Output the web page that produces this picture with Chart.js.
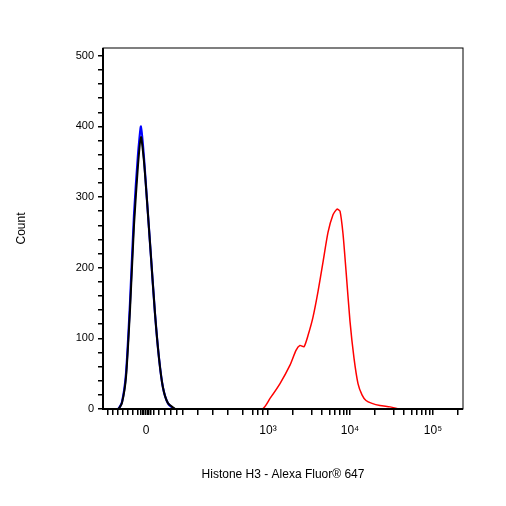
<!DOCTYPE html>
<html>
<head>
<meta charset="utf-8">
<script src="https://cdn.jsdelivr.net/npm/chart.js@4"></script>
<style>
  body { margin: 0; background: #fff; }
  #wrap { width: 506px; height: 506px; }
</style>
</head>
<body>
<div id="wrap"><canvas id="chart" width="506" height="506"></canvas></div>
<script>
// x values are display channels on the logicle axis (0..360)
const blueX = [0, 15, 19, 23, 27, 31, 35, 38, 41, 44, 48, 52, 56, 60, 65, 72, 360];
const blueY = [0, 0, 10, 50, 150, 275, 360, 400, 355, 295, 215, 135, 72, 30, 8, 0, 0];
const blackX = [0, 15, 19, 23, 27, 31, 35, 38, 41, 44, 48, 52, 56, 60, 65, 72];
const blackY = [0, 0, 9, 45, 140, 260, 345, 385, 350, 295, 215, 135, 72, 30, 8, 0];
const redX = [0, 159, 167, 177, 187, 193, 197, 201, 205, 210, 215, 220, 225, 230, 234, 237, 240, 243, 247, 251, 255, 259, 263, 269, 277, 287, 297, 360];
const redY = [0, 0, 15, 36, 62, 83, 90, 88, 104, 130, 166, 208, 250, 275, 283, 280, 248, 196, 124, 72, 36, 20, 12, 8, 5, 3, 0, 0];

const majorTicks = [43, 165, 247, 330];
const majorLabels = ['0', '10³', '10⁴', '10⁵'];
const minorTicks = [5, 10, 15, 20, 25, 30, 35, 38, 40, 41, 45, 46, 48, 51, 56, 62, 68, 74, 80, 95, 110, 125, 140, 150, 155, 160,
  190, 209, 219, 227, 232, 237, 241, 244, 272, 291, 301, 309, 314, 319, 323, 327, 355];

const toPts = (xs, ys) => xs.map((x, i) => ({ x: x, y: ys[i] }));

const framePlugin = {
  id: 'frame',
  afterDraw(chart) {
    const a = chart.chartArea, ctx = chart.ctx;
    ctx.save();
    ctx.strokeStyle = '#000';
    ctx.lineWidth = 1;
    ctx.strokeRect(a.left, a.top, a.right - a.left, a.bottom - a.top);
    ctx.lineWidth = 2;
    ctx.beginPath();
    ctx.moveTo(a.left, a.top);
    ctx.lineTo(a.left, a.bottom);
    ctx.lineTo(a.right, a.bottom);
    ctx.stroke();
    ctx.restore();
  }
};

new Chart(document.getElementById('chart'), {
  type: 'line',
  data: {
    datasets: [
      { data: toPts(redX, redY), borderColor: '#ff0000', borderWidth: 1.5 },
      { data: toPts(blackX, blackY), borderColor: '#000000', borderWidth: 2 },
      { data: toPts(blueX, blueY), borderColor: '#0000ff', borderWidth: 2.2 }
    ]
  },
  options: {
    responsive: false,
    animation: false,
    layout: { padding: { left: 10, right: 43, top: 48, bottom: 20 } },
    elements: { point: { radius: 0 }, line: { tension: 0.2 } },
    plugins: { legend: { display: false }, tooltip: { enabled: false } },
    scales: {
      x: {
        type: 'linear', min: 0, max: 360,
        afterBuildTicks: s => { s.ticks = majorTicks.concat(minorTicks).map(v => ({ value: v })); },
        afterFit: s => { s.height = 77; },
        grid: { drawOnChartArea: false, drawTicks: true, tickLength: 6, color: '#000', lineWidth: 1.5 },
        border: { display: false },
        ticks: {
          autoSkip: false, maxRotation: 0, color: '#000', padding: 8,
          font: { family: 'Liberation Sans', size: 12 },
          callback: v => { const i = majorTicks.indexOf(v); return i >= 0 ? majorLabels[i] : ''; }
        },
        title: { display: true, text: 'Histone H3 - Alexa Fluor® 647', color: '#000',
                 font: { family: 'Liberation Sans', size: 12 }, padding: { top: 16 } }
      },
      y: {
        type: 'linear', min: 0, max: 511,
        afterBuildTicks: s => { const t = []; for (let v = 0; v <= 500; v += 20) t.push({ value: v }); s.ticks = t; },
        afterFit: s => { s.width = 93; },
        grid: { drawOnChartArea: false, drawTicks: true, tickLength: 5, color: '#000', lineWidth: 1.5 },
        border: { display: false },
        ticks: {
          autoSkip: false, color: '#000', padding: 4,
          font: { family: 'Liberation Sans', size: 11 },
          callback: v => (v % 100 === 0 ? String(v) : '')
        },
        title: { display: true, text: 'Count', color: '#000',
                 font: { family: 'Liberation Sans', size: 12 }, padding: { bottom: 28 } }
      }
    }
  },
  plugins: [framePlugin]
});
</script>
</body>
</html>
